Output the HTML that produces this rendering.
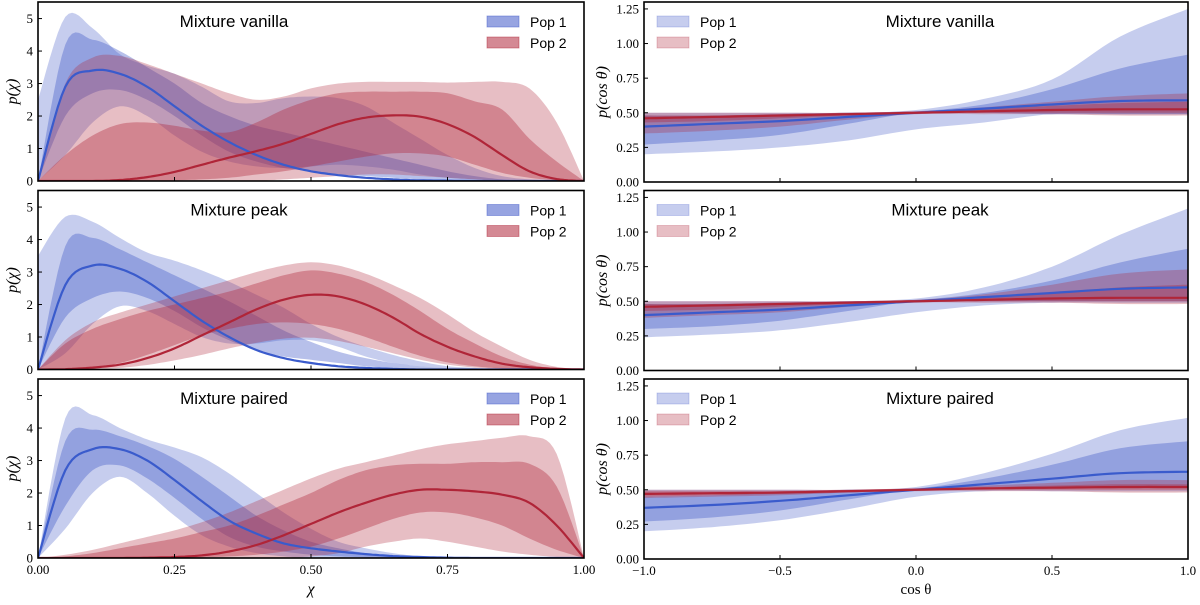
<!DOCTYPE html>
<html><head><meta charset="utf-8"><style>
body{margin:0;background:#fff;}
svg text{font-family:"Liberation Serif",serif;}
.sans{font-family:"Liberation Sans",sans-serif;}
</style></head><body>
<svg id="fig" width="1200" height="600" xmlns="http://www.w3.org/2000/svg"></svg>
<script>
// ---------- data ----------
const chiGrid=[0,0.05,0.1,0.15,0.2,0.25,0.3,0.35,0.4,0.45,0.5,0.55,0.6,0.65,0.7,0.75,0.8,0.85,0.9,0.95,1];
const cosGrid=[-1,-0.75,-0.5,-0.25,0,0.25,0.5,0.75,1];
const panelTitles=["Mixture vanilla","Mixture peak","Mixture paired"];
const vanP1med=[0,2.9,3.4,3.3,2.9,2.3,1.7,1.2,0.8,0.5,0.3,0.18,0.1,0.05,0.02,0.01,0,0,0,0,0];
const vanP1lo50=[0,2.0,2.7,2.8,2.5,2.0,1.4,0.9,0.6,0.4,0.3,0.2,0.15,0.1,0.05,0.02,0,0,0,0,0];
const vanP1hi50=[0,4.2,4.35,4.0,3.5,3.0,2.4,2.0,1.7,1.5,1.3,1.1,0.9,0.7,0.5,0.3,0.15,0.05,0,0,0];
const vanP1lo90=[0,0.8,1.8,2.3,2.0,1.4,0.9,0.6,0.45,0.4,0.45,0.5,0.45,0.35,0.2,0.1,0.05,0,0,0,0];
const vanP1hi90=[2.5,5.05,4.7,3.9,3.55,3.3,2.9,2.45,2.4,2.55,2.6,2.55,2.3,1.8,1.3,0.8,0.4,0.15,0.05,0.02,0];
const vanP2med=[0,0,0,0.03,0.12,0.28,0.5,0.72,0.92,1.15,1.45,1.75,1.95,2.02,1.98,1.75,1.35,0.8,0.3,0.06,0];
const vanP2lo50=[0,0,0,0,0,0.02,0.05,0.1,0.2,0.3,0.45,0.6,0.75,0.85,0.85,0.75,0.5,0.25,0.1,0.02,0];
const vanP2hi50=[0,0.8,1.4,1.75,1.8,1.7,1.55,1.5,1.8,2.2,2.5,2.7,2.75,2.75,2.75,2.7,2.45,2.2,1.3,0.6,0];
const vanP2lo90=[0,0,0,0,0,0,0,0,0,0.05,0.1,0.15,0.2,0.2,0.15,0.1,0.05,0,0,0,0];
const vanP2hi90=[0,3.0,3.8,3.85,3.6,3.3,3.0,2.7,2.5,2.6,2.85,3.0,3.05,3.05,3.05,3.03,3.05,3.05,2.85,1.8,0];
const pkP1med=[0,2.6,3.2,3.1,2.7,2.1,1.5,1.0,0.6,0.35,0.2,0.1,0.05,0.02,0,0,0,0,0,0,0];
const pkP1lo50=[0,1.6,2.2,2.4,2.2,1.8,1.3,0.9,0.6,0.4,0.3,0.2,0.1,0.05,0,0,0,0,0,0,0];
const pkP1hi50=[0,3.8,4.05,3.7,3.3,2.9,2.5,2.1,1.65,1.2,0.85,0.55,0.35,0.2,0.1,0.05,0,0,0,0,0];
const pkP1lo90=[0,0.5,1.4,1.95,1.8,1.4,1.0,0.8,0.8,0.9,0.9,0.7,0.4,0.2,0.1,0.05,0,0,0,0,0];
const pkP1hi90=[3.5,4.7,4.55,4.05,3.6,3.35,3.05,2.7,2.3,1.9,1.4,1.0,0.7,0.45,0.25,0.1,0.05,0,0,0,0];
const pkP2med=[0,0.01,0.06,0.15,0.35,0.65,1.05,1.45,1.85,2.15,2.3,2.25,2.0,1.6,1.1,0.7,0.4,0.18,0.07,0.02,0];
const pkP2lo50=[0,0.01,0.06,0.2,0.45,0.75,1.05,1.25,1.4,1.45,1.4,1.25,1.0,0.7,0.42,0.22,0.1,0.03,0,0,0];
const pkP2hi50=[0,0.8,1.25,1.55,1.8,2.0,2.2,2.4,2.65,2.9,3.05,2.95,2.7,2.3,1.8,1.25,0.8,0.4,0.15,0.03,0];
const pkP2lo90=[0,0,0.01,0.05,0.14,0.28,0.45,0.65,0.82,0.95,0.98,0.88,0.7,0.5,0.3,0.15,0.06,0.01,0,0,0];
const pkP2hi90=[0,0.9,1.45,1.75,2.0,2.25,2.5,2.75,3.0,3.2,3.3,3.2,2.95,2.6,2.2,1.7,1.15,0.7,0.3,0.08,0];
const prP1med=[0,2.7,3.35,3.35,3.0,2.4,1.75,1.15,0.75,0.45,0.3,0.2,0.12,0.06,0.03,0.01,0,0,0,0,0];
const prP1lo50=[0,1.6,2.7,2.85,2.45,1.85,1.2,0.65,0.35,0.2,0.1,0.05,0.02,0,0,0,0,0,0,0,0];
const prP1hi50=[0,3.6,3.95,3.75,3.45,3.05,2.5,1.9,1.3,0.85,0.5,0.3,0.15,0.05,0,0,0,0,0,0,0];
const prP1lo90=[0,0.9,2.0,2.5,2.0,1.3,0.7,0.35,0.15,0.05,0,0,0,0,0,0,0,0,0,0,0];
const prP1hi90=[0,4.3,4.4,4.0,3.65,3.4,3.1,2.6,2.0,1.4,0.9,0.5,0.3,0.15,0.05,0,0,0,0,0,0];
const prP2med=[0,0,0,0,0.01,0.03,0.08,0.2,0.4,0.7,1.05,1.4,1.7,1.95,2.1,2.1,2.05,1.95,1.7,1.0,0];
const prP2lo50=[0,0,0,0,0,0,0.02,0.05,0.1,0.2,0.35,0.6,0.9,1.2,1.4,1.4,1.25,1.0,0.6,0.25,0];
const prP2hi50=[0,0.05,0.15,0.3,0.45,0.6,0.8,1.0,1.3,1.65,2.0,2.4,2.7,2.85,2.9,2.9,2.95,2.95,2.9,2.2,0];
const prP2lo90=[0,0,0,0,0,0,0,0,0,0,0.05,0.15,0.35,0.5,0.6,0.5,0.35,0.2,0.1,0.03,0];
const prP2hi90=[0,0.1,0.25,0.45,0.65,0.85,1.1,1.4,1.75,2.1,2.45,2.75,2.95,3.15,3.35,3.5,3.6,3.7,3.75,3.2,0];
const cvP1med=[0.4,0.42,0.44,0.47,0.5,0.53,0.56,0.585,0.59];
const cvP1lo50=[0.27,0.3,0.34,0.42,0.5,0.5,0.49,0.49,0.49];
const cvP1hi50=[0.48,0.48,0.49,0.5,0.51,0.56,0.67,0.82,0.92];
const cvP1lo90=[0.2,0.22,0.25,0.3,0.38,0.43,0.49,0.49,0.49];
const cvP1hi90=[0.5,0.5,0.5,0.5,0.52,0.6,0.74,1.05,1.25];
const cvP2med=[0.46,0.47,0.48,0.49,0.5,0.51,0.52,0.525,0.525];
const cvP2lo50=[0.43,0.44,0.46,0.48,0.5,0.5,0.5,0.5,0.5];
const cvP2hi50=[0.48,0.48,0.49,0.5,0.51,0.53,0.55,0.57,0.58];
const cvP2lo90=[0.35,0.37,0.4,0.45,0.49,0.49,0.49,0.48,0.48];
const cvP2hi90=[0.5,0.5,0.5,0.5,0.51,0.54,0.58,0.62,0.64];
const cpP1med=[0.4,0.42,0.44,0.47,0.5,0.53,0.56,0.59,0.6];
const cpP1lo50=[0.3,0.32,0.36,0.43,0.5,0.5,0.5,0.5,0.5];
const cpP1hi50=[0.48,0.48,0.49,0.5,0.51,0.56,0.65,0.78,0.88];
const cpP1lo90=[0.24,0.26,0.29,0.35,0.42,0.47,0.49,0.49,0.49];
const cpP1hi90=[0.5,0.5,0.5,0.5,0.52,0.6,0.75,0.98,1.17];
const cpP2med=[0.46,0.47,0.48,0.49,0.5,0.51,0.52,0.525,0.525];
const cpP2lo50=[0.43,0.44,0.46,0.48,0.5,0.5,0.5,0.5,0.5];
const cpP2hi50=[0.48,0.48,0.49,0.5,0.51,0.53,0.56,0.6,0.62];
const cpP2lo90=[0.38,0.4,0.42,0.46,0.49,0.49,0.49,0.48,0.48];
const cpP2hi90=[0.5,0.5,0.5,0.5,0.51,0.55,0.62,0.7,0.73];
const crP1med=[0.37,0.39,0.42,0.46,0.5,0.54,0.58,0.62,0.63];
const crP1lo50=[0.27,0.3,0.35,0.43,0.5,0.52,0.52,0.52,0.52];
const crP1hi50=[0.45,0.46,0.48,0.5,0.51,0.58,0.68,0.8,0.85];
const crP1lo90=[0.2,0.23,0.28,0.36,0.45,0.49,0.49,0.49,0.49];
const crP1hi90=[0.5,0.5,0.5,0.5,0.52,0.62,0.76,0.93,1.02];
const crP2med=[0.47,0.475,0.48,0.49,0.5,0.51,0.515,0.52,0.52];
const crP2lo50=[0.45,0.46,0.47,0.48,0.5,0.5,0.5,0.5,0.5];
const crP2hi50=[0.49,0.49,0.49,0.5,0.51,0.52,0.53,0.54,0.54];
const crP2lo90=[0.44,0.45,0.46,0.48,0.49,0.49,0.49,0.48,0.48];
const crP2hi90=[0.5,0.5,0.5,0.5,0.51,0.53,0.55,0.57,0.57];
const chiTicks=["0.00","0.25","0.50","0.75","1.00"];
const chiYTicks=[0,1,2,3,4,5];
const cosTicks=["\u22121.0","\u22120.5","0.0","0.5","1.0"];
const cosYTicks=["0.00","0.25","0.50","0.75","1.00","1.25"];

const chiPanels=[
 [[vanP1med,vanP1lo50,vanP1hi50,vanP1lo90,vanP1hi90],[vanP2med,vanP2lo50,vanP2hi50,vanP2lo90,vanP2hi90]],
 [[pkP1med,pkP1lo50,pkP1hi50,pkP1lo90,pkP1hi90],[pkP2med,pkP2lo50,pkP2hi50,pkP2lo90,pkP2hi90]],
 [[prP1med,prP1lo50,prP1hi50,prP1lo90,prP1hi90],[prP2med,prP2lo50,prP2hi50,prP2lo90,prP2hi90]]];
const cosPanels=[
 [[cvP1med,cvP1lo50,cvP1hi50,cvP1lo90,cvP1hi90],[cvP2med,cvP2lo50,cvP2hi50,cvP2lo90,cvP2hi90]],
 [[cpP1med,cpP1lo50,cpP1hi50,cpP1lo90,cpP1hi90],[cpP2med,cpP2lo50,cpP2hi50,cpP2lo90,cpP2hi90]],
 [[crP1med,crP1lo50,crP1hi50,crP1lo90,crP1hi90],[crP2med,crP2lo50,crP2hi50,crP2lo90,crP2hi90]]];

// ---------- drawing ----------
const NS="http://www.w3.org/2000/svg";
const svg=document.getElementById('fig');
function mk(tag,attrs,parent){const e=document.createElementNS(NS,tag);for(const k in attrs)e.setAttribute(k,attrs[k]);(parent||svg).appendChild(e);return e;}
const COL=[{line:"#3a5bcc",fill:"rgb(65,90,200)"},{line:"#b02538",fill:"rgb(176,40,60)"}];
function smoothPts(xs,ys){
  const out=[];const n=xs.length;
  for(let i=0;i<n-1;i++){
    const p0=[xs[Math.max(0,i-1)],ys[Math.max(0,i-1)]],p1=[xs[i],ys[i]],p2=[xs[i+1],ys[i+1]],p3=[xs[Math.min(n-1,i+2)],ys[Math.min(n-1,i+2)]];
    for(let s=0;s<8;s++){const t=s/8,t2=t*t,t3=t2*t;
      const f=(a,b,c,d)=>0.5*(2*b+(-a+c)*t+(2*a-5*b+4*c-d)*t2+(-a+3*b-3*c+d)*t3);
      out.push([f(p0[0],p1[0],p2[0],p3[0]),Math.max(0,f(p0[1],p1[1],p2[1],p3[1]))]);}
  }
  out.push([xs[n-1],ys[n-1]]);return out;
}
function drawPanel(idx,left,top,w,h,xmin,xmax,ymax,grid,series,isChi,row){
  const X=v=>left+(v-xmin)/(xmax-xmin)*w, Y=v=>top+h-v/ymax*h;
  const g=mk('g',{});
  
  
  const cid='clip'+idx;
  const cp=mk('clipPath',{id:cid},g);mk('rect',{x:left,y:top,width:w,height:h},cp);
  const plot=mk('g',{'clip-path':'url(#'+cid+')'},g);
  series.forEach((s,pi)=>{
    const [med,lo50,hi50,lo90,hi90]=s;
    [[lo90,hi90,0.3,'band-90'],[lo50,hi50,0.38,'band-50']].forEach(([lo,hi,a,nm])=>{
      const up=smoothPts(grid,hi).map(p=>X(p[0]).toFixed(1)+','+Y(p[1]).toFixed(1));
      const dn=smoothPts(grid,lo).reverse().map(p=>X(p[0]).toFixed(1)+','+Y(p[1]).toFixed(1));
      const pg=mk('polygon',{points:up.concat(dn).join(' '),fill:COL[pi].fill,'fill-opacity':a},plot);
      
      
    });
  });
  series.forEach((s,pi)=>{
    const pts=smoothPts(grid,s[0]).map(p=>X(p[0]).toFixed(1)+','+Y(p[1]).toFixed(1)).join(' ');
    const l=mk('polyline',{points:pts,fill:'none',stroke:COL[pi].line,'stroke-width':2.2},plot);
    
    
  });
  const fr=mk('rect',{x:left,y:top,width:w,height:h,fill:'none',stroke:'#000','stroke-width':1.6},g);
  
  
  const yt=isChi?chiYTicks:cosYTicks;
  yt.forEach(t=>{const v=+t;const y=Y(v);
    mk('line',{x1:left,x2:left+4,y1:y,y2:y,stroke:'#000','stroke-width':1},g);
    const tx=mk('text',{x:left-5,y:y+4.5,'text-anchor':'end','font-size':13},g);tx.textContent=t;
    
    
  });
  const xt=isChi?chiTicks:cosTicks;
  xt.forEach((t,i)=>{const v=xmin+(xmax-xmin)*i/(xt.length-1);const x=X(v);
    mk('line',{x1:x,x2:x,y1:top+h,y2:top+h-4,stroke:'#000','stroke-width':1},g);
    if(row===2){const tx=mk('text',{x:x,y:top+h+16,'text-anchor':'middle','font-size':13},g);tx.textContent=t;
      
      }
  });
  const yl=mk('text',{transform:'translate('+(left-(isChi?21:37))+','+(top+h/2)+') rotate(-90)','text-anchor':'middle','font-size':16,'font-style':'italic'},g);
  yl.textContent=isChi?'p(\u03C7)':'p(cos \u03B8)';
  
  
  const tt=mk('text',{x:isChi?(row===1?239:234):940,y:top+25,'text-anchor':'middle','font-size':17,class:'sans'},g);
  tt.textContent=panelTitles[row];
  
  
  const lx=isChi?left+w-97:left+13, ly=top+14;
  const alpha=isChi?0.55:0.3;
  ['Pop 1','Pop 2'].forEach((nm,i)=>{
    const r=mk('rect',{x:lx,y:ly+i*21,width:32,height:11,fill:COL[i].fill,'fill-opacity':alpha,stroke:COL[i].fill,'stroke-opacity':alpha,'stroke-width':0.8},g);
    
    
    const t=mk('text',{x:lx+43,y:ly+i*21+11,'font-size':14,class:'sans'},g);t.textContent=nm;
    
    
  });
}
for(let r=0;r<3;r++){
  const top=2+r*188.5;
  drawPanel('L'+r,38,top,546,179,0,1,5.51,chiGrid,chiPanels[r],true,r);
  drawPanel('R'+r,644,top,544,180,-1,1,1.3,cosGrid,cosPanels[r],false,r);
}
const xl1=mk('text',{x:311,y:594,'text-anchor':'middle','font-size':16,'font-style':'italic'});xl1.textContent='\u03C7';


const xl2=mk('text',{x:916,y:594,'text-anchor':'middle','font-size':15});xl2.textContent='cos \u03B8';


</script>
</body></html>
